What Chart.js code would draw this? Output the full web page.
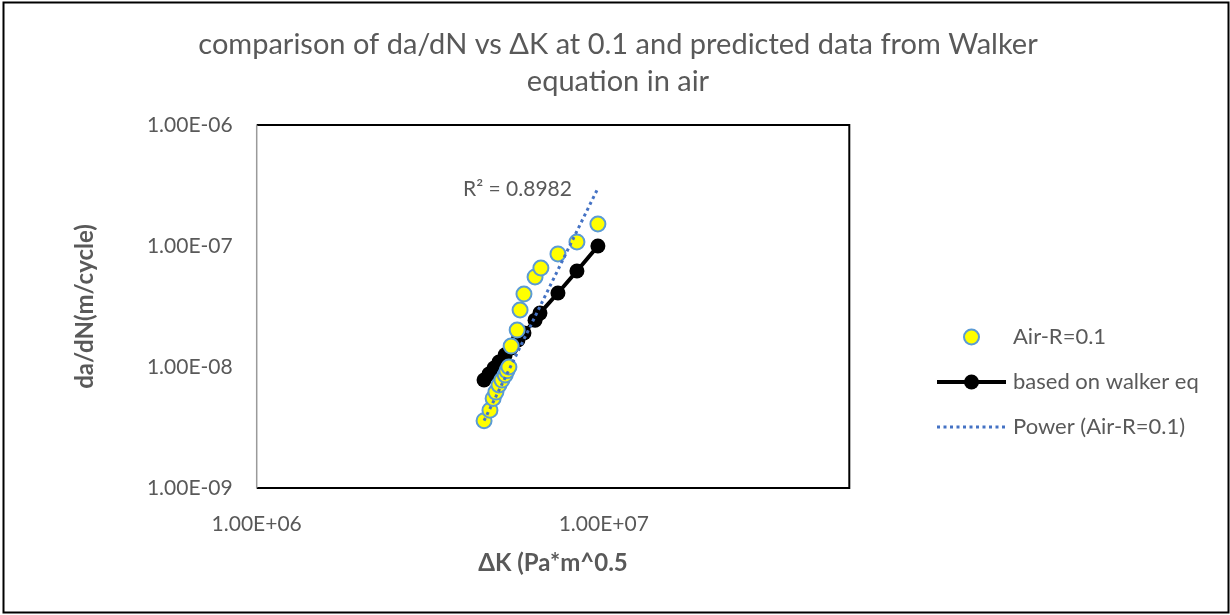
<!DOCTYPE html>
<html>
<head>
<meta charset="utf-8">
<title>da/dN vs ΔK</title>
<script src="https://cdn.jsdelivr.net/npm/chart.js@4.4.1/dist/chart.umd.min.js"></script>
<style>
  html, body { margin: 0; padding: 0; background: #fff; }
  #wrap { width: 1230px; height: 615px; }
</style>
</head>
<body>
<div id="wrap"><canvas id="chart" width="1230" height="615"></canvas></div>
<script>
// measured data (Air, R = 0.1)
const airK = [4.52e6, 4.70e6, 4.80e6, 4.89e6, 4.99e6, 5.09e6, 5.20e6, 5.26e6, 5.33e6,
              5.41e6, 5.63e6, 5.74e6, 5.89e6, 6.34e6, 6.59e6, 7.38e6, 8.37e6, 9.62e6];
const airRate = [3.6e-9, 4.4e-9, 5.5e-9, 6.2e-9, 7.1e-9, 7.8e-9, 8.6e-9, 9.3e-9, 1.0e-8,
                 1.49e-8, 2.02e-8, 2.96e-8, 4.01e-8, 5.55e-8, 6.58e-8, 8.6e-8, 1.08e-7, 1.52e-7];

// predicted from walker equation
const walkerK = [4.52e6, 4.67e6, 4.83e6, 4.99e6, 5.20e6, 5.41e6, 5.66e6, 5.89e6,
                 6.34e6, 6.55e6, 7.38e6, 8.37e6, 9.62e6];
const walkerRate = [7.8e-9, 8.75e-9, 9.8e-9, 1.10e-8, 1.26e-8, 1.44e-8, 1.67e-8, 1.91e-8,
                    2.44e-8, 2.79e-8, 4.09e-8, 6.21e-8, 1.0e-7];

// power trendline end points as drawn
const trendK = [4.52e6, 9.62e6];
const trendRate = [3.6e-9, 3.0e-7];

const xTicks = [1e6, 1e7];
const yTicks = [1e-9, 1e-8, 1e-7, 1e-6];
const xMax = 5.1e7;

const titleLines = ['comparison of da/dN vs \u0394K at 0.1 and predicted data from Walker', 'equation in air'];
const r2Label = 'R\u00B2 = 0.8982';
const legendNames = ['Air-R=0.1', 'based on walker eq', 'Power (Air-R=0.1)'];

const gray = '#595959';
const fontFam = 'Lato, "Open Sans", sans-serif';

function sci(v) {
    const e = Math.round(Math.log10(v));
    const m = v / Math.pow(10, e);
    return m.toFixed(2) + 'E' + (e < 0 ? '-' : '+') + String(Math.abs(e)).padStart(2, '0');
}

function pts(xs, ys) {
    return xs.map((x, i) => ({ x: x, y: ys[i] }));
}

// title, legend, R2 label and frames
const decor = {
    id: 'decor',
    afterDraw(chart) {
        const ctx = chart.ctx;
        const a = chart.chartArea;
        const ds = chart.data.datasets;
        ctx.save();

        // plot area border
        ctx.strokeStyle = '#000';
        ctx.lineWidth = 2;
        ctx.beginPath();
        ctx.moveTo(a.left, a.top);
        ctx.lineTo(a.right, a.top);
        ctx.lineTo(a.right, a.bottom);
        ctx.lineTo(a.left, a.bottom);
        ctx.stroke();
        ctx.strokeStyle = '#9a9a9a';
        ctx.lineWidth = 1.5;
        ctx.beginPath();
        ctx.moveTo(a.left, a.top);
        ctx.lineTo(a.left, a.bottom);
        ctx.stroke();

        // outer frame
        ctx.strokeStyle = '#000';
        ctx.lineWidth = 2;
        ctx.strokeRect(3.5, 2.5, 1225, 610);

        // title
        ctx.fillStyle = gray;
        ctx.font = '29px ' + fontFam;
        ctx.textAlign = 'center';
        ctx.textBaseline = 'middle';
        ctx.fillText(titleLines[0], 618, 45);
        ctx.fillText(titleLines[1], 618, 82);

        // trendline R2
        ctx.font = '21px ' + fontFam;
        ctx.textAlign = 'left';
        ctx.fillText(r2Label, 463, 189);

        // legend
        const lx0 = 937, lx1 = 1006, lmid = 971.5, tx = 1013;
        const ly = [337, 382, 427];
        ctx.font = '22px ' + fontFam;
        ctx.fillStyle = gray;
        legendNames.forEach((n, i) => ctx.fillText(n, tx, ly[i]));

        // yellow marker
        ctx.beginPath();
        ctx.arc(lmid, ly[0], ds[0].pointRadius, 0, Math.PI * 2);
        ctx.fillStyle = ds[0].pointBackgroundColor;
        ctx.fill();
        ctx.lineWidth = ds[0].pointBorderWidth;
        ctx.strokeStyle = ds[0].pointBorderColor;
        ctx.stroke();

        // black line + marker
        ctx.beginPath();
        ctx.moveTo(lx0, ly[1]);
        ctx.lineTo(lx1, ly[1]);
        ctx.lineWidth = ds[1].borderWidth;
        ctx.strokeStyle = ds[1].borderColor;
        ctx.stroke();
        ctx.beginPath();
        ctx.arc(lmid, ly[1], ds[1].pointRadius, 0, Math.PI * 2);
        ctx.fillStyle = ds[1].pointBackgroundColor;
        ctx.fill();

        // dotted line
        ctx.beginPath();
        ctx.setLineDash(ds[2].borderDash);
        ctx.moveTo(lx0, ly[2]);
        ctx.lineTo(lx1, ly[2]);
        ctx.lineWidth = ds[2].borderWidth;
        ctx.strokeStyle = ds[2].borderColor;
        ctx.stroke();
        ctx.setLineDash([]);

        ctx.restore();
    }
};

new Chart(document.getElementById('chart'), {
    type: 'scatter',
    data: {
        datasets: [{
            label: legendNames[0],
            data: pts(airK, airRate),
            showLine: false,
            pointRadius: 7.5,
            pointBackgroundColor: '#FFFF00',
            pointBorderColor: '#5B9BD5',
            pointBorderWidth: 2,
            order: 2
        }, {
            label: legendNames[1],
            data: pts(walkerK, walkerRate),
            showLine: true,
            borderColor: '#000',
            borderWidth: 4,
            pointRadius: 7.5,
            pointBackgroundColor: '#000',
            pointBorderColor: '#000',
            pointBorderWidth: 0,
            order: 3
        }, {
            label: legendNames[2],
            data: pts(trendK, trendRate),
            showLine: true,
            borderColor: '#4472C4',
            borderWidth: 3,
            borderDash: [3, 3.5],
            pointRadius: 0,
            order: 1
        }]
    },
    options: {
        responsive: false,
        animation: false,
        layout: { padding: { left: 0, top: 125, right: 380.7, bottom: 0 } },
        plugins: {
            legend: { display: false },
            title: { display: false },
            tooltip: { enabled: false }
        },
        scales: {
            x: {
                type: 'logarithmic',
                min: 1e6,
                max: xMax,
                grid: { display: false, drawTicks: false },
                border: { display: false },
                afterBuildTicks: s => { s.ticks = xTicks.map(v => ({ value: v })); },
                afterFit: s => { s.height = 127; },
                ticks: {
                    color: gray,
                    font: { family: fontFam, size: 21 },
                    padding: 24,
                    maxRotation: 0,
                    callback: v => sci(v)
                },
                title: {
                    display: true,
                    text: '\u0394K (Pa*m^0.5',
                    color: gray,
                    font: { family: fontFam, size: 24, weight: 'bold' },
                    padding: { top: 0, bottom: 37.6 }
                }
            },
            y: {
                type: 'logarithmic',
                min: 1e-9,
                max: 1e-6,
                grid: { display: false, drawTicks: false },
                border: { display: false },
                afterBuildTicks: s => { s.ticks = yTicks.map(v => ({ value: v })); },
                afterFit: s => { s.width = 256.7; },
                ticks: {
                    color: gray,
                    font: { family: fontFam, size: 21 },
                    padding: 24,
                    callback: v => sci(v)
                },
                title: {
                    display: true,
                    text: 'da/dN(m/cycle)',
                    color: gray,
                    font: { family: fontFam, size: 24, weight: 'bold' },
                    padding: { top: 70.6, bottom: 0 }
                }
            }
        }
    },
    plugins: [decor]
});
</script>
</body>
</html>
